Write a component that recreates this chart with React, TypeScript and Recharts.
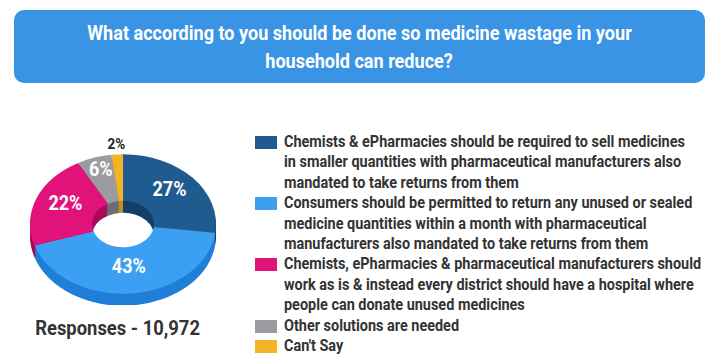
import React from 'react';
import { PieChart, Pie, Cell } from 'recharts';

const title = ['What according to you should be done so medicine wastage in your', 'household can reduce?'];

const categories = [
  'Chemists & ePharmacies should be required to sell medicines\nin smaller quantities with pharmaceutical manufacturers also\nmandated to take returns from them',
  'Consumers should be permitted to return any unused or sealed\nmedicine quantities within a month with pharmaceutical\nmanufacturers also mandated to take returns from them',
  'Chemists, ePharmacies & pharmaceutical manufacturers should\nwork as is & instead every district should have a hospital where\npeople can donate unused medicines',
  'Other solutions are needed',
  "Can't Say",
];

const shares = [27, 43, 22, 6, 2];

const responses = '10,972';

const topColors = ['#1f5b8f', '#3b9ff2', '#e1137b', '#9c9ca0', '#f2b424'];
const sideColors = ['#143f66', '#1f7fd8', '#a80b5a', '#6e6e72', '#c48d14'];

const SQUASH = 0.75;
const RADIAN = Math.PI / 180;
const depthLayers = [16, 12, 8, 4];

const pieData = categories.map((name, i) => ({ name, value: shares[i] }));

const renderLabel = (props: any) => {
  const { cx, cy, midAngle, innerRadius, outerRadius, value } = props;
  const outside = value < 5;
  const mid = (innerRadius + outerRadius) / 2;
  const r = outside ? outerRadius + 14 : value < 10 ? mid + 10 : mid;
  const x = cx + r * Math.cos(-midAngle * RADIAN);
  const y = cy + r * Math.sin(-midAngle * RADIAN) - (outside ? 0 : 5);
  return (
    <text
      transform={`translate(${x},${y}) scale(0.9,${1 / SQUASH})`}
      textAnchor="middle"
      dominantBaseline="central"
      fill={outside ? '#222' : '#fff'}
      fontSize={outside ? 15 : 20}
      fontWeight={700}
      fontFamily="Roboto"
    >
      {value}%
    </text>
  );
};

const App: React.FC = () => {
  const cx = 118;
  const cy = 147;

  return (
    <div style={{ position: 'absolute', left: 0, top: 0, width: 715, height: 364, background: '#fff', fontFamily: 'Roboto', overflow: 'hidden' }}>
      {/* title banner */}
      <div
        style={{
          position: 'absolute', left: 14, top: 10, width: 691, height: 73,
          background: '#3a94e5', borderRadius: 10, color: '#fff',
          display: 'flex', flexDirection: 'column', alignItems: 'center', justifyContent: 'center',
        }}
      >
        {title.map((t) => (
          <div key={t} style={{ fontSize: 21, fontWeight: 700, lineHeight: '28px', transform: 'scaleX(0.86)', whiteSpace: 'nowrap' }}>{t}</div>
        ))}
      </div>

      {/* 3d donut: squashed pie with stacked side layers */}
      <div style={{ position: 'absolute', left: 0, top: 110, transform: `scaleY(${SQUASH})`, transformOrigin: 'top left' }}>
        <PieChart width={240} height={260}>
          {depthLayers.map((d) => (
            <Pie
              key={d}
              data={pieData}
              dataKey="value"
              cx={cx}
              cy={cy + d}
              innerRadius={31}
              outerRadius={93}
              startAngle={90}
              endAngle={-270}
              stroke="none"
              isAnimationActive={false}
            >
              {pieData.map((e, i) => <Cell key={e.name} fill={sideColors[i]} />)}
            </Pie>
          ))}
          <Pie
            data={pieData}
            dataKey="value"
            cx={cx}
            cy={cy}
            innerRadius={31}
            outerRadius={93}
            startAngle={90}
            endAngle={-270}
            stroke="none"
            label={renderLabel}
            labelLine={false}
            isAnimationActive={false}
          >
            {pieData.map((e, i) => <Cell key={e.name} fill={topColors[i]} />)}
          </Pie>
        </PieChart>
      </div>

      <div style={{ position: 'absolute', left: 0, top: 314, width: 236, textAlign: 'center', color: '#333', fontSize: 20, fontWeight: 700, lineHeight: '28px' }}>
        <span style={{ display: 'inline-block', transform: 'scaleX(0.92)', whiteSpace: 'nowrap' }}>Responses - {responses}</span>
      </div>

      {/* legend */}
      <div style={{ position: 'absolute', left: 255, top: 132 }}>
        {categories.map((c, i) => (
          <div key={c} style={{ position: 'relative', paddingLeft: 29 }}>
            <div style={{ position: 'absolute', left: 0, top: 4, width: 22, height: 13, background: topColors[i] }} />
            <div style={{ fontSize: 16.5, fontWeight: 700, lineHeight: '20.4px', color: '#333', whiteSpace: 'pre', transform: 'scaleX(0.875)', transformOrigin: 'left' }}>{c}</div>
          </div>
        ))}
      </div>
    </div>
  );
};

export default App;
